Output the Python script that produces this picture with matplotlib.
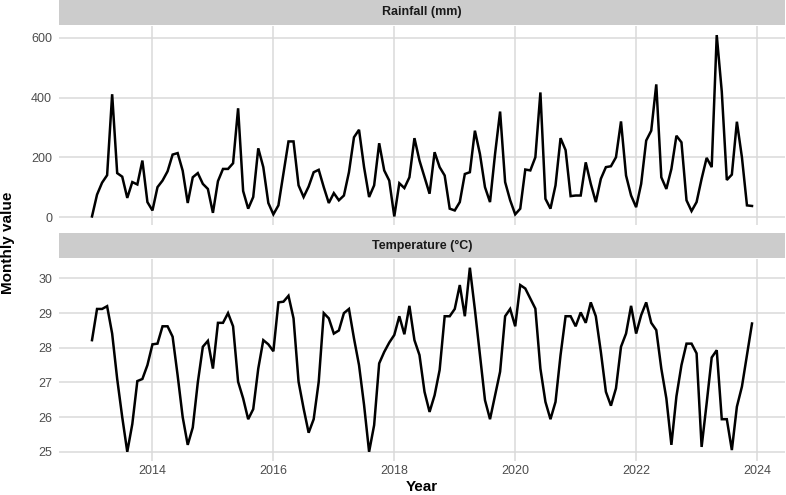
import numpy as np
import matplotlib
matplotlib.use("Agg")
import matplotlib.pyplot as plt
from matplotlib.patches import Rectangle

plt.rcParams['font.family'] = ['Liberation Sans', 'DejaVu Sans']

years = list(range(2013, 2024))
rainfall_mm = [
    2, 75, 115, 140, 411, 147, 135, 64, 117, 109, 189, 50,
    22, 100, 122, 153, 209, 214, 155, 47, 133, 147, 111, 94,
    14, 120, 161, 161, 180, 364, 87, 28, 67, 230, 167, 47,
    9, 39, 147, 253, 253, 106, 67, 102, 150, 158, 100, 47,
    80, 56, 72, 150, 267, 292, 167, 67, 106, 247, 156, 122,
    2, 113, 97, 133, 264, 189, 133, 78, 217, 167, 139, 28,
    22, 50, 144, 150, 289, 211, 100, 50, 211, 353, 117, 56,
    9, 28, 159, 156, 200, 417, 61, 28, 106, 264, 224, 70,
    72, 72, 183, 111, 50, 128, 167, 170, 200, 320, 139, 72,
    33, 111, 256, 289, 444, 133, 94, 161, 272, 250, 56, 20,
    50, 128, 198, 167, 609, 420, 124, 142, 319, 200, 39, 37,
]
temperature_c = [
    28.22, 29.12, 29.12, 29.20, 28.41, 27.10, 26.00, 25.00, 25.80, 27.04, 27.10, 27.50,
    28.10, 28.12, 28.62, 28.62, 28.32, 27.20, 26.00, 25.20, 25.70, 27.00, 28.03, 28.20,
    27.40, 28.72, 28.72, 29.00, 28.62, 27.02, 26.54, 25.94, 26.23, 27.40, 28.22, 28.10,
    27.90, 29.31, 29.33, 29.50, 28.85, 27.02, 26.25, 25.55, 25.94, 27.02, 29.00, 28.85,
    28.41, 28.50, 29.00, 29.12, 28.27, 27.50, 26.35, 25.00, 25.77, 27.55, 27.88, 28.15,
    28.37, 28.91, 28.39, 29.21, 28.22, 27.79, 26.73, 26.15, 26.63, 27.36, 28.91, 28.91,
    29.12, 29.81, 28.91, 30.31, 29.10, 27.80, 26.49, 25.94, 26.63, 27.31, 28.91, 29.12,
    28.62, 29.81, 29.71, 29.42, 29.13, 27.40, 26.44, 25.94, 26.44, 27.79, 28.91, 28.91,
    28.62, 29.02, 28.72, 29.31, 28.91, 27.88, 26.73, 26.33, 26.83, 28.03, 28.41, 29.21,
    28.41, 28.94, 29.31, 28.72, 28.51, 27.40, 26.54, 25.20, 26.60, 27.50, 28.12, 28.12,
    27.84, 25.14, 26.40, 27.72, 27.93, 25.94, 25.94, 25.05, 26.30, 26.88, 27.80, 28.70,
]
panel_titles = ["Rainfall (mm)", "Temperature (°C)"]
rain_ticks = [0, 200, 400, 600]
temp_ticks = [25, 26, 27, 28, 29, 30]
year_ticks = [2014, 2016, 2018, 2020, 2022, 2024]

t = np.array([y + m / 12 for y in years for m in range(12)])

W, H = 786, 495
fig = plt.figure(figsize=(W / 100, H / 100), dpi=100)


def fr(x0, y0, x1, y1):
    return [x0 / W, 1 - y1 / H, (x1 - x0) / W, (y1 - y0) / H]


grid_col = "#DADADA"
tick_col = "#4D4D4D"


def style(ax, yticks, show_x):
    for s in ax.spines.values():
        s.set_visible(False)
    ax.set_facecolor("white")
    ax.set_xticks(year_ticks)
    ax.set_yticks(yticks)
    ax.grid(True, color=grid_col, linewidth=1.1)
    ax.set_axisbelow(True)
    ax.tick_params(length=0, labelsize=9, labelcolor=tick_col, pad=5)
    if not show_x:
        ax.tick_params(axis='x', labelbottom=False)
    else:
        ax.tick_params(axis='x', pad=3)


ax1 = fig.add_axes(fr(59, 26, 785, 225.5))
ax1.plot(t, rainfall_mm, color="black", linewidth=1.8, solid_joinstyle='miter')
ax1.margins(x=0.05, y=0.05)
style(ax1, rain_ticks, False)

ax2 = fig.add_axes(fr(59, 258.5, 785, 461))
ax2.plot(t, temperature_c, color="black", linewidth=1.8, solid_joinstyle='miter')
ax2.margins(x=0.05, y=0.05)
style(ax2, temp_ticks, True)
ax2.set_xlim(ax1.get_xlim())

for (y0, y1), title in zip([(0, 25), (233, 258)], panel_titles):
    sa = fig.add_axes(fr(59, y0, 785, y1))
    sa.set_axis_off()
    sa.add_patch(Rectangle((0, 0), 1, 1, transform=sa.transAxes, color="#CCCCCC"))
    sa.text(0.5, 0.5, title, ha='center', va='center', fontsize=9,
            fontweight='bold', color="#1A1A1A", transform=sa.transAxes)

fig.text(8 / W, 1 - 243 / H, "Monthly value", rotation=90, ha='center', va='center',
         fontsize=11, fontweight='bold', color='black')
fig.text(422 / W, 1 - 487 / H, "Year", ha='center', va='center',
         fontsize=11, fontweight='bold', color='black')

fig.savefig("out.png", dpi=100)
